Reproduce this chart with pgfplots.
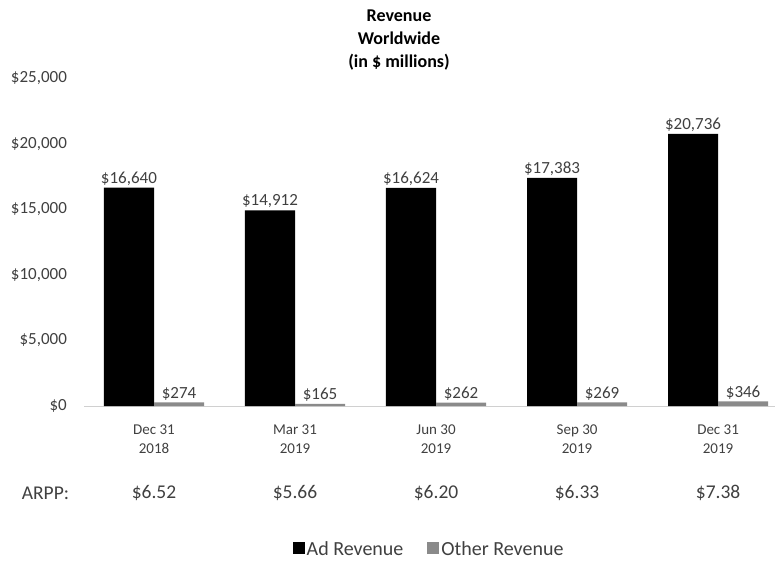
\documentclass[border=0pt]{standalone}
\usepackage{fontspec}
\setmainfont{Carlito}
\usepackage{pgfplots}
\pgfplotsset{compat=1.18}
\definecolor{txt}{HTML}{404040}
\definecolor{oth}{HTML}{8A8A8A}
\definecolor{base}{HTML}{D0D0D0}
\begin{document}
\begin{tikzpicture}[x=1pt,y=1pt]
\useasboundingbox (0pt,0pt) rectangle (775pt,560pt);
\begin{axis}[
  at={(154pt,154pt)}, anchor=origin,
  scale only axis, width=691pt, height=328pt,
  xmin=-0.496, xmax=4.404, ymin=0, ymax=25000,
  clip=false,
  axis x line*=bottom, axis y line*=left,
  x axis line style={draw=base, line width=1pt, -},
  y axis line style={draw=none},
  major tick length=0pt,
  xtick={0,1,2,3,4},
  xticklabels={{Dec 31\\2018},{Mar 31\\2019},{Jun 30\\2019},{Sep 30\\2019},{Dec 31\\2019}},
  xticklabel style={align=center, inner sep=0pt, yshift=-18.5pt, text=txt, font=\fontsize{15}{19.5}\selectfont},
  ytick={0,5000,10000,15000,20000,25000},
  scaled y ticks=false,
  /pgf/number format/assume math mode=true,
  /pgf/number format/1000 sep={,},
  yticklabel={\$\pgfmathprintnumber{\tick}},
  yticklabel style={anchor=east, inner sep=0pt, xshift=-17pt, text=txt, font=\fontsize{17}{20}\selectfont},
  ybar, bar width=0.355,
  nodes near coords={\$\pgfmathprintnumber{\pgfplotspointmeta}},
  every node near coord/.append style={text=txt, font=\fontsize{17}{20}\selectfont, inner sep=2pt},
  legend style={at={(0.4993,-0.436)}, anchor=center, draw=none, legend columns=2,
    font=\fontsize{20}{24}\selectfont, text=txt,
    /tikz/every even column/.append style={column sep=22pt}},
  legend image code/.code={\fill[#1, draw=none] (-2pt,-5pt) rectangle (10pt,7pt);},
]
\addplot[fill=black, draw=none, bar shift=-0.1775] coordinates {(0,16640) (1,14912) (2,16624) (3,17383) (4,20736)};
\addlegendentry{Ad Revenue}
\addplot[fill=oth, draw=none, bar shift=0.1775] coordinates {(0,274) (1,165) (2,262) (3,269) (4,346)};
\addlegendentry{Other Revenue}
\node[text=txt, font=\fontsize{19.5}{22}\selectfont] at (axis cs:-0.77,-6631) {ARPP:};
\node[text=txt, font=\fontsize{19.5}{22}\selectfont] at (axis cs:0,-6631) {\$6.52};
\node[text=txt, font=\fontsize{19.5}{22}\selectfont] at (axis cs:1,-6631) {\$5.66};
\node[text=txt, font=\fontsize{19.5}{22}\selectfont] at (axis cs:2,-6631) {\$6.20};
\node[text=txt, font=\fontsize{19.5}{22}\selectfont] at (axis cs:3,-6631) {\$6.33};
\node[text=txt, font=\fontsize{19.5}{22}\selectfont] at (axis cs:4,-6631) {\$7.38};
\end{axis}
\node[align=center, font=\bfseries\fontsize{18}{23}\selectfont] at (399pt,520pt) {Revenue\\Worldwide\\(in \$ millions)};
\end{tikzpicture}
\end{document}
